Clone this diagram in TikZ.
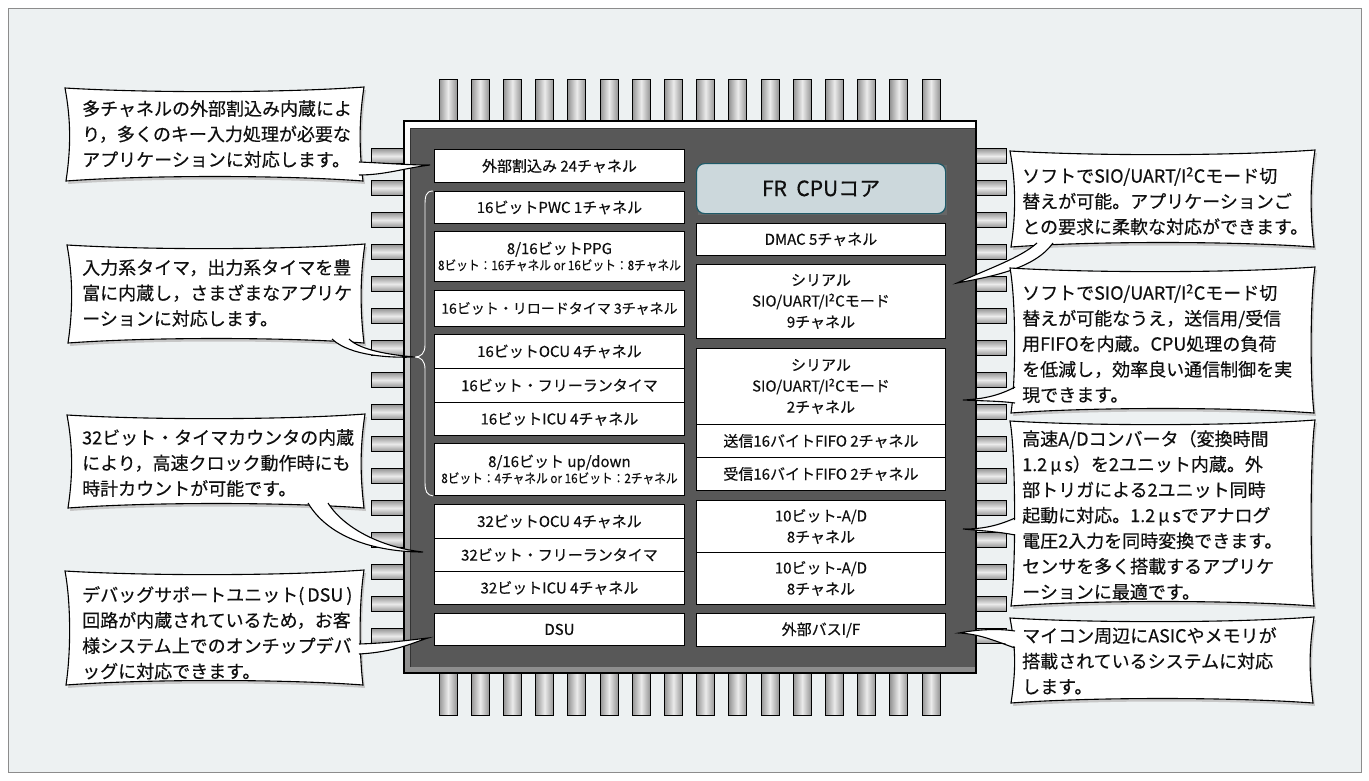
\documentclass[tikz,border=0pt]{standalone}
\usepackage{fontspec}
\setmainfont{Noto Sans CJK JP}[FakeBold=0.4]
\usetikzlibrary{calc}
\definecolor{bg}{RGB}{237,241,242}
\definecolor{framec}{RGB}{140,140,140}
\definecolor{chipbody}{RGB}{88,88,88}
\definecolor{cpufill}{RGB}{204,216,220}
\definecolor{cpuline}{RGB}{30,90,104}
\definecolor{txt}{RGB}{15,15,15}
\newcommand\bubble[4]{%
\fill[black!22,shift={(2,3)}] ({#1-3},{#2-2}) .. controls ({#1+80},{#2+3}) and ({#3-80},{#2+3}) .. ({#3+2},{#2-3}) .. controls ({#3-3},{#2+30}) and ({#3-3},{#4-30}) .. ({#3+1},{#4+3}) .. controls ({#3-80},{#4-3}) and ({#1+80},{#4-3}) .. ({#1-2},{#4+3}) .. controls ({#1+3},{#4-30}) and ({#1+3},{#2+30}) .. cycle;
\filldraw[fill=white,draw=black,line width=1.1pt] ({#1-3},{#2-2}) .. controls ({#1+80},{#2+3}) and ({#3-80},{#2+3}) .. ({#3+2},{#2-3}) .. controls ({#3-3},{#2+30}) and ({#3-3},{#4-30}) .. ({#3+1},{#4+3}) .. controls ({#3-80},{#4-3}) and ({#1+80},{#4-3}) .. ({#1-2},{#4+3}) .. controls ({#1+3},{#4-30}) and ({#1+3},{#2+30}) .. cycle;}
\newcommand\cond[1]{\scalebox{0.9}[1]{\fontsize{13}{15}\selectfont #1}}
\tikzset{
 box/.style={draw=black,fill=white,line width=0.9pt,minimum width=250pt,anchor=north west,inner sep=0pt,align=center,font=\fontsize{15}{20}\selectfont,text=txt},
 rbox/.style={box,minimum width=249pt},
 btext/.style={anchor=north west,inner sep=0pt,align=left,font=\fontsize{18}{25.5}\selectfont,text=txt},
 vpin/.style={draw=black,line width=0.9pt,shading=axis,left color=black!42,right color=black!42,middle color=black!8},
 hpin/.style={draw=black,line width=0.9pt,shading=axis,top color=black!42,bottom color=black!42,middle color=black!8},
 tailfill/.style={fill=white},
 tailline/.style={draw=black,line width=1.1pt}
}
\begin{document}
\begin{tikzpicture}[x=1pt,y=-1pt]
\useasboundingbox (0,0) rectangle (1369,780);
\fill[white] (0,0) rectangle (1369,780);
\filldraw[fill=bg,draw=framec,line width=1pt] (8,8) rectangle (1361,772);
% pins
\foreach \i in {0,...,15}{
 \pgfmathsetmacro\px{439+32.2*\i}
 \draw[vpin] (\px,79) rectangle ({\px+18},125);
 \draw[vpin] (\px,669) rectangle ({\px+18},715);
 \pgfmathsetmacro\py{148.5+32*\i}
 \draw[hpin] (371,\py) rectangle (408,{\py+15});
 \draw[hpin] (972,\py) rectangle (1006,{\py+15});
}
% chip
\shade[top color=white,bottom color=black!45] (404,121) rectangle (976,673);
\fill[chipbody] (410,128) rectangle (976,667);
\draw[black!80,line width=0.8pt] (410,667) -- (410,128) -- (976,128);
\draw[black,line width=1.1pt] (404,121) rectangle (976,673);
% left column
\node[box,minimum height=33pt] (ext) at (434,149) {外部割込み 24チャネル};
\node[box,minimum height=32pt] (pwc) at (434,191) {16ビットPWC 1チャネル};
\node[box,minimum height=50pt] (ppg) at (434,231) {8/16ビットPPG\\[-4pt]\cond{8ビット：16チャネル or 16ビット：8チャネル}};
\node[box,minimum height=36pt,font=\fontsize{14}{20}\selectfont] (rld) at (434,290) {16ビット・リロードタイマ 3チャネル};
\node[box,minimum height=34pt] (ocu16) at (434,334) {16ビットOCU 4チャネル};
\node[box,minimum height=34pt] (frt16) at (434,368) {16ビット・フリーランタイマ};
\node[box,minimum height=33pt] (icu16) at (434,402) {16ビットICU 4チャネル};
\node[box,minimum height=52pt] (ud) at (434,443) {8/16ビット up/down\\[-4pt]\cond{8ビット：4チャネル or 16ビット：2チャネル}};
\node[box,minimum height=34pt] (ocu32) at (434,504) {32ビットOCU 4チャネル};
\node[box,minimum height=33pt] (frt32) at (434,538) {32ビット・フリーランタイマ};
\node[box,minimum height=33pt] (icu32) at (434,571) {32ビットICU 4チャネル};
\node[box,minimum height=32pt] (dsu) at (434,613) {DSU};
% right column
\fill[black!60] (698,165) rectangle (947,215);
\node[rbox,fill=cpufill,draw=cpuline,line width=1.2pt,rounded corners=8pt,minimum height=50pt,font=\fontsize{21}{24}\selectfont] (cpu) at (696,163) {FR\ \ CPUコア};
\node[rbox,minimum height=32pt] (dmac) at (696,223) {DMAC 5チャネル};
\node[rbox,minimum height=74pt,font=\fontsize{15}{21}\selectfont] (ser9) at (696,264) {シリアル\\SIO/UART/I\textsuperscript{2}Cモード\\9チャネル};
\node[rbox,minimum height=76pt,font=\fontsize{15}{21}\selectfont] (ser2) at (696,348) {シリアル\\SIO/UART/I\textsuperscript{2}Cモード\\2チャネル};
\node[rbox,minimum height=33pt] (tx) at (696,424) {送信16バイトFIFO 2チャネル};
\node[rbox,minimum height=33pt] (rx) at (696,457) {受信16バイトFIFO 2チャネル};
\node[rbox,minimum height=52pt,font=\fontsize{15}{21}\selectfont] (ad1) at (696,500) {10ビット-A/D\\8チャネル};
\node[rbox,minimum height=52pt,font=\fontsize{15}{21}\selectfont] (ad2) at (696,552) {10ビット-A/D\\8チャネル};
\node[rbox,minimum height=33pt] (bus) at (696,613) {外部バスI/F};
% brace
\coordinate (bt) at ($(pwc.north west)+(-1,0)$);
\coordinate (bb) at ($(ud.south west)+(-1,0)$);
\coordinate (bm) at (415,357);
\draw[white,line width=0.9pt] (bt) .. controls (426,191) and (425,196) .. (425,205) -- (425,345) .. controls (425,353) and (421,357) .. (bm) .. controls (421,357) and (425,361) .. (425,369) -- (425,482) .. controls (425,492) and (427,495) .. (bb);
% tips
\coordinate (t1) at (430,165);
\coordinate (t2) at (bm);
\coordinate (t3) at (423,552);
\coordinate (t4) at (428,638);
\coordinate (r1) at (957,283);
\coordinate (r2) at (963,400);
\coordinate (r3) at (963,529);
\coordinate (r4) at (959,633);
% bubbles left
\bubble{68}{90}{362}{178}
\fill[tailfill] (355,162) .. controls (385,163) and (405,165) .. (t1) .. controls (405,168) and (385,175) .. (355,175) -- cycle;
\draw[tailline] (359,162) .. controls (385,163) and (405,165) .. (t1) .. controls (405,168) and (385,175) .. (359,175);
\node[btext] (c1) at (82,100) {多チャネルの外部割込み内蔵によ\\り，多くのキー入力処理が必要な\\アプリケーションに対応します。};
\bubble{70}{247}{363}{340}
\fill[tailfill] (332,334) -- (332,339) .. controls (350,356) and (390,358) .. (t2) .. controls (390,355) and (360,350) .. (349,339) -- (349,334) -- cycle;
\draw[tailline] (332,339) .. controls (350,356) and (390,358) .. (t2) .. controls (390,355) and (360,350) .. (349,339);
\node[btext] (c2) at (82,259) {入力系タイマ，出力系タイマを豊\\富に内蔵し，さまざまなアプリケ\\ーションに対応します。};
\bubble{70}{417}{363}{505}
\fill[tailfill] (308,498) -- (308,503) .. controls (330,540) and (380,552) .. (t3) .. controls (385,548) and (345,530) .. (328,503) -- (328,498) -- cycle;
\draw[tailline] (308,503) .. controls (330,540) and (380,552) .. (t3) .. controls (385,548) and (345,530) .. (328,503);
\node[btext] (c3) at (82,429) {32ビット・タイマカウンタの内蔵\\により，高速クロック動作時にも\\時計カウントが可能です。};
\bubble{68}{573}{362}{682}
\fill[tailfill] (354,644) .. controls (390,643) and (410,640) .. (t4) .. controls (412,643) and (395,652) .. (354,654) -- cycle;
\draw[tailline] (359,644) .. controls (390,643) and (410,640) .. (t4) .. controls (412,643) and (395,652) .. (359,654);
\node[btext] (c4) at (82,586) {デバッグサポートユニット(\,DSU\,)\\回路が内蔵されているため，お客\\様システム上でのオンチップデバ\\ッグに対応できます。};
% bubbles right
\bubble{1013}{153}{1313}{244}
\fill[tailfill] (1037,238) -- (1037,243) .. controls (1020,258) and (990,268) .. (r1) .. controls (995,276) and (1035,268) .. (1053,243) -- (1053,238) -- cycle;
\draw[tailline] (1037,243) .. controls (1020,258) and (990,268) .. (r1) .. controls (995,276) and (1035,268) .. (1053,243);
\node[btext] (n1) at (1022,167) {ソフトでSIO/UART/I\textsuperscript{2}Cモード切\\替えが可能。アプリケーションご\\との要求に柔軟な対応ができます。};
\bubble{1013}{270}{1313}{410}
\fill[tailfill] (1021,386) .. controls (1000,395) and (985,399) .. (r2) .. controls (985,401) and (1000,401) .. (1021,403) -- cycle;
\draw[tailline] (1015,387) .. controls (1000,395) and (985,399) .. (r2) .. controls (985,401) and (1000,401) .. (1015,403);
\node[btext] (n2) at (1022,284) {ソフトでSIO/UART/I\textsuperscript{2}Cモード切\\替えが可能なうえ，送信用/受信\\用FIFOを内蔵。CPU処理の負荷\\を低減し，効率良い通信制御を実\\現できます。};
\bubble{1013}{423}{1313}{603}
\fill[tailfill] (1021,518) .. controls (995,527) and (980,529) .. (r3) .. controls (985,531) and (1000,532) .. (1021,535) -- cycle;
\draw[tailline] (1015,518) .. controls (995,527) and (980,529) .. (r3) .. controls (985,531) and (1000,532) .. (1015,535);
\node[btext] (n3) at (1022,430) {高速A/Dコンバータ（変換時間\\1.2\,μ\,s）を2ユニット内蔵。外\\部トリガによる2ユニット同時\\起動に対応。1.2\,μ\,sでアナログ\\電圧2入力を同時変換できます。\\センサを多く搭載するアプリケ\\ーションに最適です。};
\bubble{1013}{620}{1312}{700}
\fill[tailfill] (1021,631) .. controls (995,628) and (975,630) .. (r4) .. controls (980,634) and (995,641) .. (1021,648) -- cycle;
\draw[tailline] (1015,631) .. controls (995,628) and (975,630) .. (r4) .. controls (980,634) and (995,641) .. (1015,648);
\node[btext] (n4) at (1022,627) {マイコン周辺にASICやメモリが\\搭載されているシステムに対応\\します。};
\end{tikzpicture}
\end{document}
